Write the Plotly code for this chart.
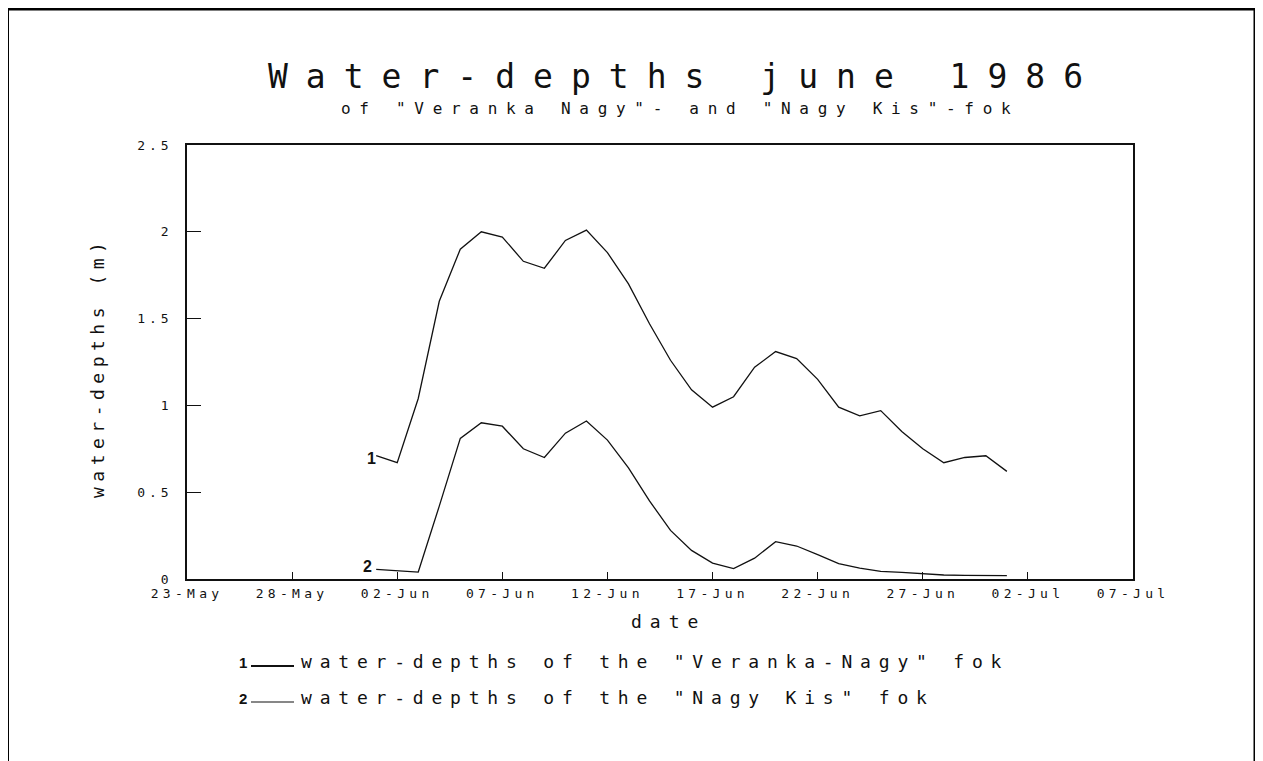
import plotly.graph_objects as go

# ---- data ----
dates = ["1986-06-01", "1986-06-02", "1986-06-03", "1986-06-04", "1986-06-05",
         "1986-06-06", "1986-06-07", "1986-06-08", "1986-06-09", "1986-06-10",
         "1986-06-11", "1986-06-12", "1986-06-13", "1986-06-14", "1986-06-15",
         "1986-06-16", "1986-06-17", "1986-06-18", "1986-06-19", "1986-06-20",
         "1986-06-21", "1986-06-22", "1986-06-23", "1986-06-24", "1986-06-25",
         "1986-06-26", "1986-06-27", "1986-06-28", "1986-06-29", "1986-06-30",
         "1986-07-01"]
veranka_nagy = [0.71, 0.67, 1.04, 1.60, 1.90, 2.00, 1.97, 1.83, 1.79, 1.95,
                2.01, 1.88, 1.70, 1.47, 1.26, 1.09, 0.99, 1.05, 1.22, 1.31,
                1.27, 1.15, 0.99, 0.94, 0.97, 0.85, 0.75, 0.67, 0.70, 0.71,
                0.62]
nagy_kis = [0.055, 0.046, 0.040, 0.42, 0.81, 0.90, 0.88, 0.75, 0.70, 0.84,
            0.91, 0.80, 0.64, 0.45, 0.28, 0.165, 0.092, 0.06, 0.12, 0.215,
            0.19, 0.14, 0.088, 0.063, 0.044, 0.038, 0.031, 0.023, 0.021, 0.021,
            0.019]
x_tickvals = ["1986-05-23", "1986-05-28", "1986-06-02", "1986-06-07", "1986-06-12",
              "1986-06-17", "1986-06-22", "1986-06-27", "1986-07-02", "1986-07-07"]
x_ticktext = ["23-May", "28-May", "02-Jun", "07-Jun", "12-Jun",
              "17-Jun", "22-Jun", "27-Jun", "02-Jul", "07-Jul"]
y_tickvals = [0, 0.5, 1, 1.5, 2, 2.5]
y_ticktext = ["0", "0.5", "1", "1.5", "2", "2.5"]

title = "Water-depths june 1986"
subtitle = 'of "Veranka Nagy"- and "Nagy Kis"-fok'
x_title = "date"
y_title = "water-depths (m)"
legend_labels = ['water-depths of the "Veranka-Nagy" fok',
                 'water-depths of the "Nagy Kis" fok']
curve_marks = ["1", "2"]

FONT = "DejaVu Sans Mono"
OFF = 8                      # page body margin of the html
W, H = 1263, 761
L, R, T, B = 187, 1133, 145, 579


def sp(text, spacing):
    return '<span style="letter-spacing:%spx">%s</span>' % (spacing, text)


def px(x):
    return (x - L) / (R - L)


def py(y):
    return (B - y) / (B - T)


fig = go.Figure()
fig.add_trace(go.Scatter(x=dates, y=veranka_nagy, mode="lines",
                         line=dict(color="#111", width=1.3), showlegend=False))
fig.add_trace(go.Scatter(x=dates, y=nagy_kis, mode="lines",
                         line=dict(color="#111", width=1.3), showlegend=False))

fig.update_layout(
    width=W - OFF, height=H - OFF,
    margin=dict(l=L - OFF, r=W - R, t=T - OFF, b=H - B),
    paper_bgcolor="white", plot_bgcolor="white",
    font=dict(family=FONT, color="#111"),
    showlegend=False,
)
fig.update_xaxes(
    type="date", range=["1986-05-23", "1986-07-07"],
    tickvals=x_tickvals, ticktext=[sp(t, 4.3) for t in x_ticktext],
    ticks="inside", ticklen=7, tickwidth=1.3, tickcolor="#111",
    showline=True, linecolor="#111", linewidth=1.5, mirror=True,
    showgrid=False, zeroline=False,
    tickfont=dict(family=FONT, size=13, color="#111"),
    ticklabelstandoff=2,
)
fig.update_yaxes(
    range=[0, 2.5],
    tickvals=y_tickvals, ticktext=[sp(t, 4) for t in y_ticktext],
    ticks="inside", ticklen=14, tickwidth=1.3, tickcolor="#111",
    showline=True, linecolor="#111", linewidth=1.5, mirror=True,
    showgrid=False, zeroline=False,
    tickfont=dict(family=FONT, size=13, color="#111"),
    ticklabelstandoff=10,
)

ann = []
ann.append(dict(text=sp(title, 18), x=px(684), y=py(76), xref="paper", yref="paper",
                showarrow=False, xanchor="center", yanchor="middle",
                font=dict(family=FONT, size=33, color="#111")))
ann.append(dict(text=sp(subtitle, 8.7), x=px(680), y=py(108), xref="paper", yref="paper",
                showarrow=False, xanchor="center", yanchor="middle",
                font=dict(family=FONT, size=16, color="#111")))
ann.append(dict(text=sp(x_title, 8), x=px(668), y=py(621), xref="paper", yref="paper",
                showarrow=False, xanchor="center", yanchor="middle",
                font=dict(family=FONT, size=18, color="#111")))
ann.append(dict(text=sp(y_title, 5.5), x=px(97), y=py(368), xref="paper", yref="paper",
                showarrow=False, xanchor="center", yanchor="middle", textangle=-90,
                font=dict(family=FONT, size=18, color="#111")))
# curve marks at the start of each line
ann.append(dict(text="<b>%s</b>" % curve_marks[0], x=dates[0], y=veranka_nagy[0],
                xref="x", yref="y", showarrow=False, xanchor="right", yanchor="middle",
                xshift=2, yshift=-3,
                font=dict(family="Liberation Sans", size=16, color="#111")))
ann.append(dict(text="<b>%s</b>" % curve_marks[1], x=dates[0], y=nagy_kis[0],
                xref="x", yref="y", showarrow=False, xanchor="right", yanchor="middle",
                xshift=-2, yshift=3,
                font=dict(family="Liberation Sans", size=16, color="#111")))

shapes = []
legend_y = [661, 697]
legend_w = [1.8, 1.2]
for i, (lab, yy) in enumerate(zip(legend_labels, legend_y)):
    ann.append(dict(text="<b>%s</b>" % curve_marks[i], x=px(249), y=py(yy + 1),
                    xref="paper", yref="paper", showarrow=False,
                    xanchor="right", yanchor="middle",
                    font=dict(family="Liberation Sans", size=15, color="#111")))
    shapes.append(dict(type="line", xref="paper", yref="paper",
                       x0=px(251), x1=px(294), y0=py(yy + 5), y1=py(yy + 5),
                       line=dict(color="#111", width=legend_w[i])))
    ann.append(dict(text=sp(lab, 7.8), x=px(299), y=py(yy), xref="paper", yref="paper",
                    showarrow=False, xanchor="left", yanchor="middle",
                    font=dict(family=FONT, size=18, color="#111")))

# page border
shapes.append(dict(type="line", xref="paper", yref="paper",
                   x0=px(8), x1=px(1256), y0=py(9), y1=py(9),
                   line=dict(color="#000", width=3)))
shapes.append(dict(type="line", xref="paper", yref="paper",
                   x0=px(8), x1=px(8), y0=py(8), y1=py(770),
                   line=dict(color="#000", width=2)))
shapes.append(dict(type="line", xref="paper", yref="paper",
                   x0=px(1255), x1=px(1255), y0=py(8), y1=py(770),
                   line=dict(color="#000", width=3)))

fig.update_layout(annotations=ann, shapes=shapes)
fig.write_html("out.html")
